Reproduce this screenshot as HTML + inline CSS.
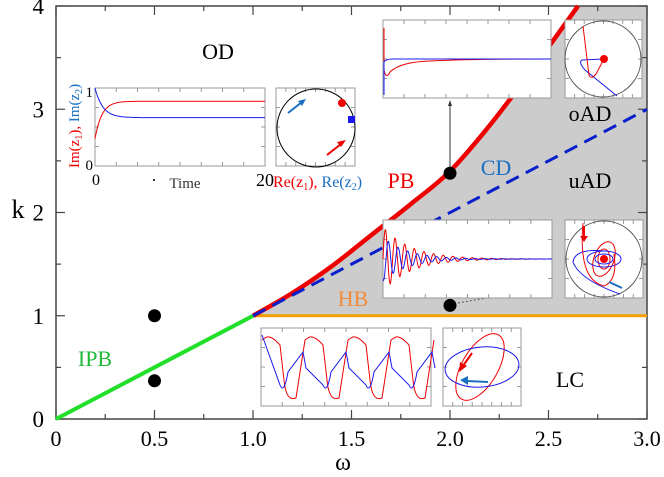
<!DOCTYPE html>
<html><head><meta charset="utf-8"><style>
html,body{margin:0;padding:0;background:#fff;}
svg{display:block;font-family:"Liberation Serif",serif;}
</style></head><body>
<svg id="c" width="664" height="477" viewBox="0 0 664 477" xmlns="http://www.w3.org/2000/svg"></svg>
<script>
const xTicks=[0,0.5,1.0,1.5,2.0,2.5,3.0];
const xTickLabels=["0","0.5","1.0","1.5","2.0","2.5","3.0"];
const yTicks=[0,1,2,3,4];
const yTickLabels=["0","1","2","3","4"];
const ipbOmega=[0,1];
const ipbK=[0,1];
const pbOmega=[1,1.2,1.4,1.6,1.8,2.0,2.2,2.4,2.65];
const pbK=[1,1.22,1.48,1.78,2.08,2.40,2.84,3.34,4.0];
const cdOmega=[1,3];
const cdK=[1,3];
const hbOmega=[1,3];
const hbK=[1,1];
const dotOmega=[0.5,0.5,2,2];
const dotK=[1,0.37,2.38,1.1];

const NS="http://www.w3.org/2000/svg";
const svg=document.getElementById('c');
const X0=56,X1=647,Y0=419,Y1=6;
const sx=w=>X0+(w/3)*(X1-X0);
const sy=k=>Y0-(k/4)*(Y0-Y1);
function el(tag,attrs,parent){const e=document.createElementNS(NS,tag);for(const a in attrs)e.setAttribute(a,attrs[a]);(parent||svg).appendChild(e);return e;}
function pts(xs,ys){return xs.map((x,i)=>sx(x).toFixed(1)+','+sy(ys[i]).toFixed(1)).join(' ');}
function smooth(xs,ys){const P=xs.map((x,i)=>[sx(x),sy(ys[i])]);let d='M'+P[0][0]+','+P[0][1];
 for(let i=0;i<P.length-1;i++){const p0=P[Math.max(0,i-1)],p1=P[i],p2=P[i+1],p3=P[Math.min(P.length-1,i+2)];
 const c1=[p1[0]+(p2[0]-p0[0])/6,p1[1]+(p2[1]-p0[1])/6],c2=[p2[0]-(p3[0]-p1[0])/6,p2[1]-(p3[1]-p1[1])/6];
 d+=` C${c1[0].toFixed(1)},${c1[1].toFixed(1)} ${c2[0].toFixed(1)},${c2[1].toFixed(1)} ${p2[0].toFixed(1)},${p2[1].toFixed(1)}`;}
 return d;}

// gray region
const pbD=smooth(pbOmega,pbK);
let g=el('path',{d:pbD+' L'+sx(3)+','+sy(4)+' L'+sx(3)+','+sy(1)+' Z',fill:'#cccccc'});



// axes frame
let fr=el('rect',{x:X0,y:Y1,width:X1-X0,height:Y0-Y1,fill:'none',stroke:'#444','stroke-width':1.5});


for(let v=0;v<=3.0001;v+=0.25){
 const major=Math.abs(v*2-Math.round(v*2))<1e-6;const L=major?9:5;
 el('line',{x1:sx(v),x2:sx(v),y1:Y0,y2:Y0-L,stroke:'#444','stroke-width':1.2});
 el('line',{x1:sx(v),x2:sx(v),y1:Y1,y2:Y1+L,stroke:'#444','stroke-width':1.2});
}
for(let v=0;v<=4.0001;v+=0.5){
 const major=Math.abs(v-Math.round(v))<1e-6;const L=major?9:5;
 el('line',{x1:X0,x2:X0+L,y1:sy(v),y2:sy(v),stroke:'#444','stroke-width':1.2});
 el('line',{x1:X1,x2:X1-L,y1:sy(v),y2:sy(v),stroke:'#444','stroke-width':1.2});
}
xTicks.forEach((v,i)=>{const t=el('text',{x:sx(v),y:446,'font-size':22,'text-anchor':'middle',fill:'#000'});t.textContent=xTickLabels[i];

});
yTicks.forEach((v,i)=>{const t=el('text',{x:44,y:sy(v)+8,'font-size':23,'text-anchor':'end',fill:'#000'});t.textContent=yTickLabels[i];

});
let xt=el('text',{x:343,y:470,'font-size':24,'text-anchor':'middle'});xt.textContent='ω';


let yt=el('text',{x:18,y:218,'font-size':26,'text-anchor':'middle'});yt.textContent='k';



let hb=el('polyline',{points:pts(hbOmega,hbK),fill:'none',stroke:'#f5a000','stroke-width':3});


let ipb=el('polyline',{points:pts(ipbOmega,ipbK),fill:'none',stroke:'#22e02a','stroke-width':4});


let pb=el('path',{d:pbD,fill:'none',stroke:'#ee0000','stroke-width':4.5,'stroke-linejoin':'round'});


let cd=el('polyline',{points:pts(cdOmega,cdK),fill:'none',stroke:'#0a1fcc','stroke-width':3,'stroke-dasharray':'14,8'});



el('line',{x1:450,y1:167,x2:450,y2:103,stroke:'#333','stroke-width':1});
el('polygon',{points:'448,106 452,106 450,100',fill:'#333'});
el('line',{x1:458,y1:303,x2:492,y2:297,stroke:'#555','stroke-width':1,'stroke-dasharray':'2,2'});

dotOmega.forEach((w,i)=>{const d=el('circle',{cx:sx(w),cy:sy(dotK[i]),r:6.5,fill:'#000'});

});

function lab(txt,x,y,col,name){const t=el('text',{x:x,y:y,'font-size':22,fill:col,'text-anchor':'middle'});t.textContent=txt;

}
lab('OD',218,59,'#000','od-label');
lab('oAD',590,121,'#000','oad-label');
lab('uAD',590,188,'#000','uad-label');
lab('CD',496,175,'#1a6fc0','cd-label');
lab('PB',401,188,'#ee0000','pb-label');
lab('HB',353,306,'#f08c3c','hb-label');
lab('IPB',95,366,'#22b83a','ipb-label');
lab('LC',570,387,'#000','lc-label');

function box(x,y,w,h,name){const gg=el('g',{});
 el('rect',{x:x,y:y,width:w,height:h,fill:'#fff',stroke:'#999','stroke-width':1},gg);
 for(let i=1;i<8;i++){const tx=x+w*i/8;el('line',{x1:tx,x2:tx,y1:y+h,y2:y+h-4,stroke:'#999'},gg);el('line',{x1:tx,x2:tx,y1:y,y2:y+4,stroke:'#999'},gg);}
 for(let i=1;i<4;i++){const ty=y+h*i/4;el('line',{x1:x,x2:x+4,y1:ty,y2:ty,stroke:'#999'},gg);el('line',{x1:x+w,x2:x+w-4,y1:ty,y2:ty,stroke:'#999'},gg);}
 return gg;}
function path(d,col,gg,w){el('path',{d:d,fill:'none',stroke:col,'stroke-width':w||1},gg);}
function fpath(f,x,w,n){let d='';for(let i=0;i<=n;i++){const t=i/n;d+=(i?'L':'M')+(x+t*w).toFixed(1)+','+f(t).toFixed(1);}return d;}

let b1=box(95,88,170,78,'inset-od-timeseries');
path(fpath(t=>166-78*(0.83-0.48*Math.exp(-t*25)),95,170,120),'#ee0000',b1);
path(fpath(t=>166-78*(0.62+0.38*Math.exp(-t*22)),95,170,120),'#1a1aee',b1);
let tt=el('text',{x:96,y:185,'font-size':16,'text-anchor':'middle'});tt.textContent='0';
let tt2=el('text',{x:93,y:97,'font-size':15,'text-anchor':'end'});tt2.textContent='1';
let tt3=el('text',{x:93,y:170,'font-size':15,'text-anchor':'end'});tt3.textContent='0';
let tt4=el('text',{x:265,y:186,'font-size':18,'text-anchor':'middle'});tt4.textContent='20';
let tl=el('text',{x:185,y:188,'font-size':15,'text-anchor':'middle',fill:'#333'});tl.textContent='Time';

el('circle',{cx:154,cy:180,r:1,fill:'#000'});
let yl=el('text',{x:0,y:0,'font-size':15,transform:'translate(79,168) rotate(-90)'});
yl.innerHTML='<tspan fill="#ee0000">Im(z<tspan font-size="10" dy="3">1</tspan><tspan dy="-3">), </tspan></tspan><tspan fill="#1a6fc0">Im(z<tspan font-size="10" dy="3">2</tspan><tspan dy="-3">)</tspan></tspan>';

let rl=el('text',{x:273,y:187,'font-size':16});
rl.innerHTML='<tspan fill="#ee0000">Re(z<tspan font-size="10" dy="3">1</tspan><tspan dy="-3">), </tspan></tspan><tspan fill="#1a6fc0">Re(z<tspan font-size="10" dy="3">2</tspan><tspan dy="-3">)</tspan></tspan>';


let b2=box(276,88,79,78,'inset-od-phase');
el('circle',{cx:316,cy:128,r:39,fill:'none',stroke:'#000','stroke-width':1},b2);
el('circle',{cx:342,cy:103,r:4,fill:'#ee0000'},b2);
el('rect',{x:348,y:116,width:7,height:7,fill:'#1a1aee'},b2);
path('M288,113 L302,102','#1a6fc0',b2,2);el('polygon',{points:'306,99 298,101 302,106',fill:'#1a6fc0'},b2);
path('M327,155 L341,144','#ee0000',b2,2);el('polygon',{points:'346,140 337,142 341,147',fill:'#ee0000'},b2);

let b3=box(383,20,168,78,'inset-pb-timeseries');
path('M384,28 L384,70 Q386,80 390,72 Q400,62 430,61 Q470,59 551,59','#ee0000',b3);
path('M384,95 L384,62 Q386,59 392,59 L551,59','#1a1aee',b3);
let b4=box(565,20,77,78,'inset-pb-phase');
el('circle',{cx:603,cy:59,r:38,fill:'none',stroke:'#555'},b4);
path('M582,60 L604,59 M582,60 Q578,62 585,70 L617,96','#1a1aee',b4);
path('M583,26 L589,75 Q591,80 596,74 L604,59','#ee0000',b4);
el('circle',{cx:604,cy:59,r:4,fill:'#ee0000'},b4);

let b5=box(383,220,169,78,'inset-cd-timeseries');
path(fpath(t=>259-32*Math.exp(-t*6)*Math.sin(t*110),383,169,400),'#ee0000',b5);
path(fpath(t=>259+22*Math.exp(-t*7)*Math.sin(t*110+1.2),383,169,400),'#1a1aee',b5);
let b6=box(565,220,78,78,'inset-cd-phase');
el('circle',{cx:604,cy:259,r:38,fill:'none',stroke:'#555'},b6);
el('ellipse',{cx:604,cy:259,rx:10,ry:18,fill:'none',stroke:'#ee0000',transform:'rotate(20 604 259)'},b6);
el('ellipse',{cx:604,cy:259,rx:6,ry:10,fill:'none',stroke:'#ee0000'},b6);
el('ellipse',{cx:604,cy:259,rx:17,ry:8,fill:'none',stroke:'#1a1aee'},b6);
el('ellipse',{cx:604,cy:259,rx:9,ry:5,fill:'none',stroke:'#1a1aee'},b6);
path('M620,294 Q580,280 573,262 Q575,248 604,251','#1a1aee',b6);
path('M583,223 Q578,280 604,286 Q618,280 614,254','#ee0000',b6);
el('circle',{cx:604,cy:259,r:4,fill:'#ee0000'},b6);
path('M622,288 L609,282','#1a6fc0',b6,2);
path('M584,226 L584,236','#ee0000',b6,2);el('polygon',{points:'580,236 588,236 584,242',fill:'#ee0000'},b6);

let b7=box(261,328,170,78,'inset-lc-timeseries');
let rd='M262,340 ',bd='M262,335 ';
const per=43;
for(let k=0;k<4;k++){const o=262+k*per;rd+=`L${o+3},338 Q${o+8},334 ${o+18},345 L${o+22},380 Q${o+24},402 ${o+34},398 Q${o+40},360 ${o+43},340 `;}
for(let k=0;k<4;k++){const o=262+k*per;bd+=`L${o+18},385 Q${o+22},395 ${o+26},372 L${o+41},352 L${o+44},368 `;}
path(rd,'#ee0000',b7);path(bd,'#1a1aee',b7);
let b8=box(443,328,78,78,'inset-lc-phase');
el('ellipse',{cx:480,cy:367,rx:18,ry:37,fill:'none',stroke:'#ee0000',transform:'rotate(30 480 367)'},b8);
el('ellipse',{cx:482,cy:367,rx:37,ry:20,fill:'none',stroke:'#1a1aee',transform:'rotate(-5 482 367)'},b8);
path('M472,353 L463,366','#ee0000',b8,2);el('polygon',{points:'459,372 460,362 467,366',fill:'#ee0000'},b8);
path('M488,382 L467,381','#1a6fc0',b8,2);el('polygon',{points:'460,380 468,376 468,385',fill:'#1a6fc0'},b8);
</script>
</body></html>
